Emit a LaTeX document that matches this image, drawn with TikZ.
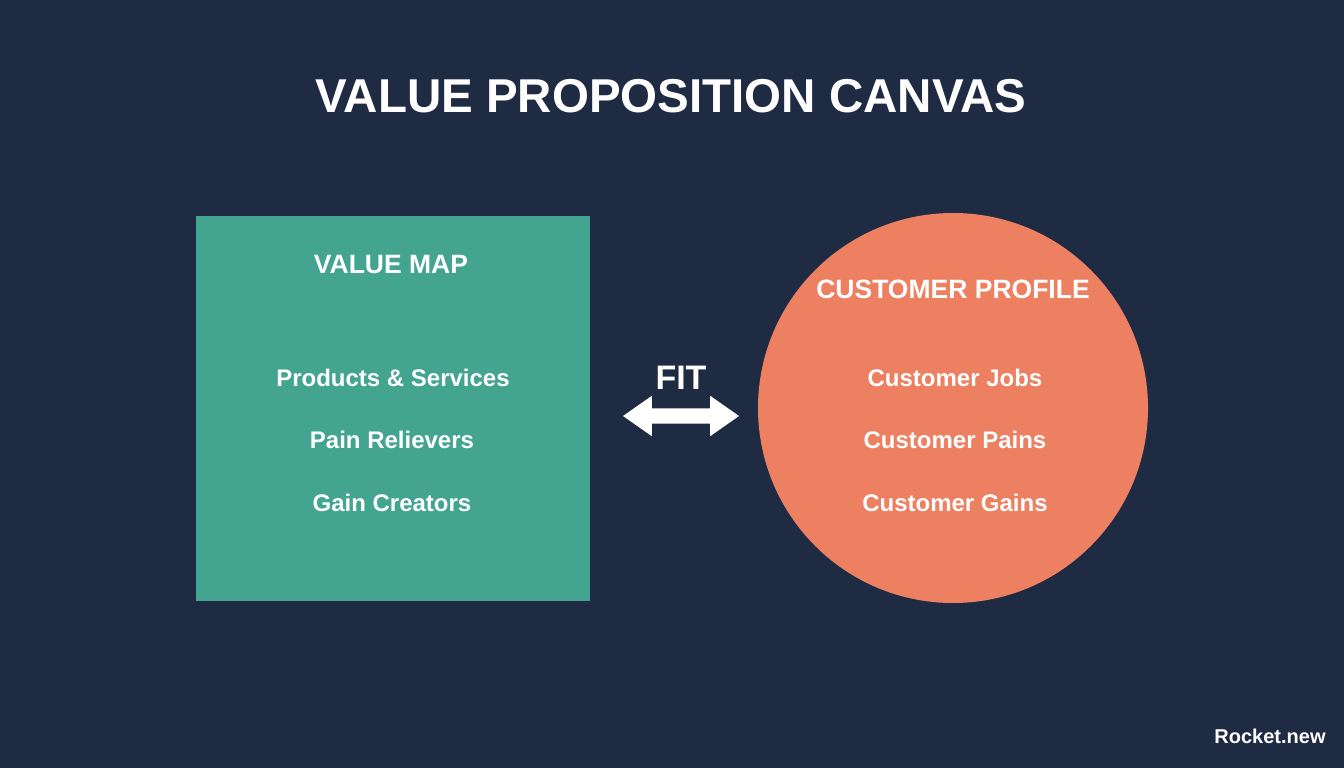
\documentclass[tikz,border=0pt]{standalone}
\usepackage{fontspec}
\setmainfont{Liberation Sans}
\usetikzlibrary{shapes.arrows}
\definecolor{bgnavy}{HTML}{1F2B42}
\definecolor{vteal}{HTML}{43A58F}
\definecolor{pcoral}{HTML}{EE8062}
\tikzset{
  lbl/.style={text=white, font=\bfseries\fontsize{24}{28}\selectfont, inner sep=0pt, anchor=center},
  hdr/.style={text=white, font=\bfseries\fontsize{26.5}{31}\selectfont, inner sep=0pt, anchor=center},
}
\begin{document}
\begin{tikzpicture}[x=1pt,y=-1pt]
\fill[bgnavy] (0,0) rectangle (1344,768);
\useasboundingbox (0,0) rectangle (1344,768);
\node[text=white, font=\bfseries\fontsize{47.5}{54}\selectfont, inner sep=0pt] (title) at (671,96) {VALUE PROPOSITION CANVAS};
% value map square
\node[fill=vteal, minimum width=394pt, minimum height=385pt, inner sep=0pt] (vmap) at (393,408.5) {};
\node[hdr] (vmh) at (391,265) {VALUE MAP};
\node[lbl] (ps) at (393,378) {Products \& Services};
\node[lbl] (pr) at (392,440) {Pain Relievers};
\node[lbl] (gc) at (392,503) {Gain Creators};
% customer profile circle
\node[circle, fill=pcoral, minimum size=390pt, inner sep=0pt] (cprof) at (953,408) {};
\node[hdr] (cph) at (953,289) {CUSTOMER PROFILE};
\node[lbl] (cj) at (955,378) {Customer Jobs};
\node[lbl] (cpn) at (955,440) {Customer Pains};
\node[lbl] (cg) at (955,503) {Customer Gains};
% fit arrow
\node[text=white, font=\bfseries\fontsize{34}{40}\selectfont, inner sep=0pt] (fit) at (681,378) {FIT};
\node[double arrow, fill=white, minimum height=116pt, minimum width=40pt, inner sep=7.5pt,
      double arrow head extend=12.5pt, double arrow tip angle=70] (fitarrow) at (681,416) {};
\node[text=white, font=\bfseries\fontsize{20}{24}\selectfont, inner sep=0pt] (brand) at (1270,736) {Rocket.new};
\end{tikzpicture}
\end{document}
